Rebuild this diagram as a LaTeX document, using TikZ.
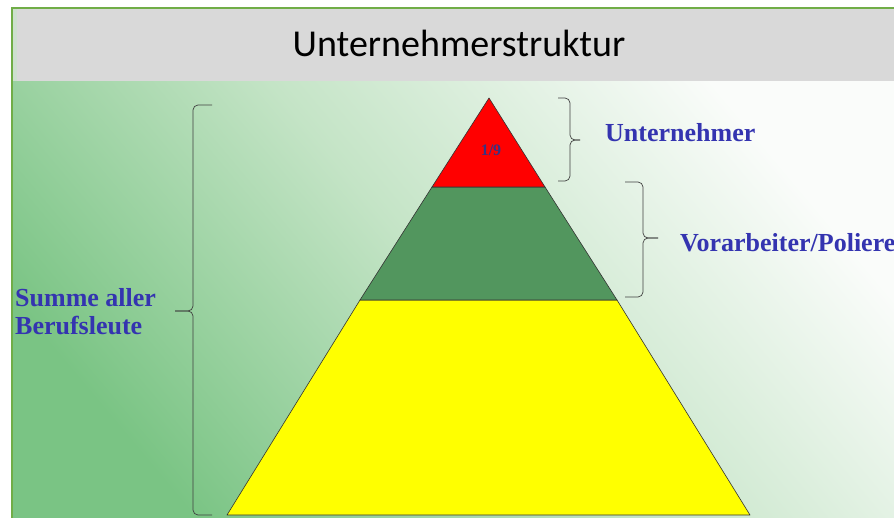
\documentclass[tikz,border=0pt]{standalone}
\usepackage{fontspec}
\setmainfont{Liberation Serif}
\newfontfamily\titlefont{Carlito}
\definecolor{bordergreen}{RGB}{112,173,71}
\definecolor{titlegrey}{RGB}{217,217,217}
\definecolor{bgdark}{RGB}{122,196,132}
\definecolor{bgmid}{RGB}{196,228,198}
\definecolor{bglight}{RGB}{250,252,250}
\definecolor{lvlred}{RGB}{255,0,0}
\definecolor{lvlgreen}{RGB}{82,150,94}
\definecolor{lvlyellow}{RGB}{255,255,0}
\definecolor{labelblue}{RGB}{52,52,176}
\definecolor{smallblue}{RGB}{58,50,130}
\tikzset{
  level/.style={draw=black!80, line width=0.6pt, line join=round},
  bracebox/.style={draw=black!75, line width=0.7pt, rounded corners=5pt},
  lbl/.style={font=\fontsize{26}{28}\selectfont\bfseries, text=labelblue, inner sep=0pt, align=left},
}
\begin{document}
\begin{tikzpicture}[x=1pt,y=-1pt]
\useasboundingbox (0,0) rectangle (894,518);
\fill[white] (0,0) rectangle (894,518);
\shade[top color=bglight, bottom color=bgdark, middle color=bgmid, shading angle=-50] (12,81) rectangle (894,518);
\fill[titlegrey] (13,9) rectangle (894,81);
\fill[bgmid!60!titlegrey] (13,9) rectangle (17,81);
\draw[bordergreen, line width=2pt] (12,518) -- (12,8) -- (894,8);
\node[font=\titlefont\fontsize{38}{40}\selectfont, anchor=base, inner sep=0pt] (title) at (459,57) {Unternehmerstruktur};
\coordinate (apex) at (489,98);
\coordinate (rl) at (432,187);
\coordinate (rr) at (545,187);
\coordinate (gl) at (360,300);
\coordinate (gr) at (617,300);
\coordinate (yl) at (227,515);
\coordinate (yr) at (750,515);
\fill[lvlyellow] (gl) -- (gr) -- (yr) -- (yl) -- cycle;
\draw[level] (gl) -- (gr) -- (yr) -- (yl) -- cycle;
\filldraw[level, fill=lvlgreen] (rl) -- (rr) -- (gr) -- (gl) -- cycle;
\filldraw[level, fill=lvlred] (apex) -- (rr) -- (rl) -- cycle;
\node[font=\fontsize{16}{18}\selectfont\bfseries, text=smallblue, inner sep=0pt] (frac) at (491,150) {1/9};
% brace Unternehmer
\coordinate (b1t) at (558,98);
\coordinate (b1b) at (558,181);
\coordinate (b1tip) at (580,140);
\draw[bracebox] (b1t) -- (570,98) -- (570,140) -- (b1tip);
\draw[bracebox] (b1tip) -- (570,140) -- (570,181) -- (b1b);
% brace Vorarbeiter
\coordinate (b2t) at (625,182);
\coordinate (b2b) at (625,297);
\coordinate (b2tip) at (658,238);
\draw[bracebox] (b2t) -- (643,182) -- (643,238) -- (b2tip);
\draw[bracebox] (b2tip) -- (643,238) -- (643,297) -- (b2b);
% brace Summe
\coordinate (b3t) at (212,105);
\coordinate (b3b) at (212,515);
\coordinate (b3tip) at (175,311);
\draw[bracebox] (b3t) -- (193,105) -- (193,311) -- (b3tip);
\draw[bracebox] (b3tip) -- (193,311) -- (193,515) -- (b3b);
\node[lbl, anchor=west] (unt) at (605,133) {Unternehmer};
\node[lbl, anchor=west] (vor) at (680,243) {Vorarbeiter/Poliere};
\node[lbl, anchor=west] (sum) at (15,312) {Summe aller\\Berufsleute};
\end{tikzpicture}
\end{document}
